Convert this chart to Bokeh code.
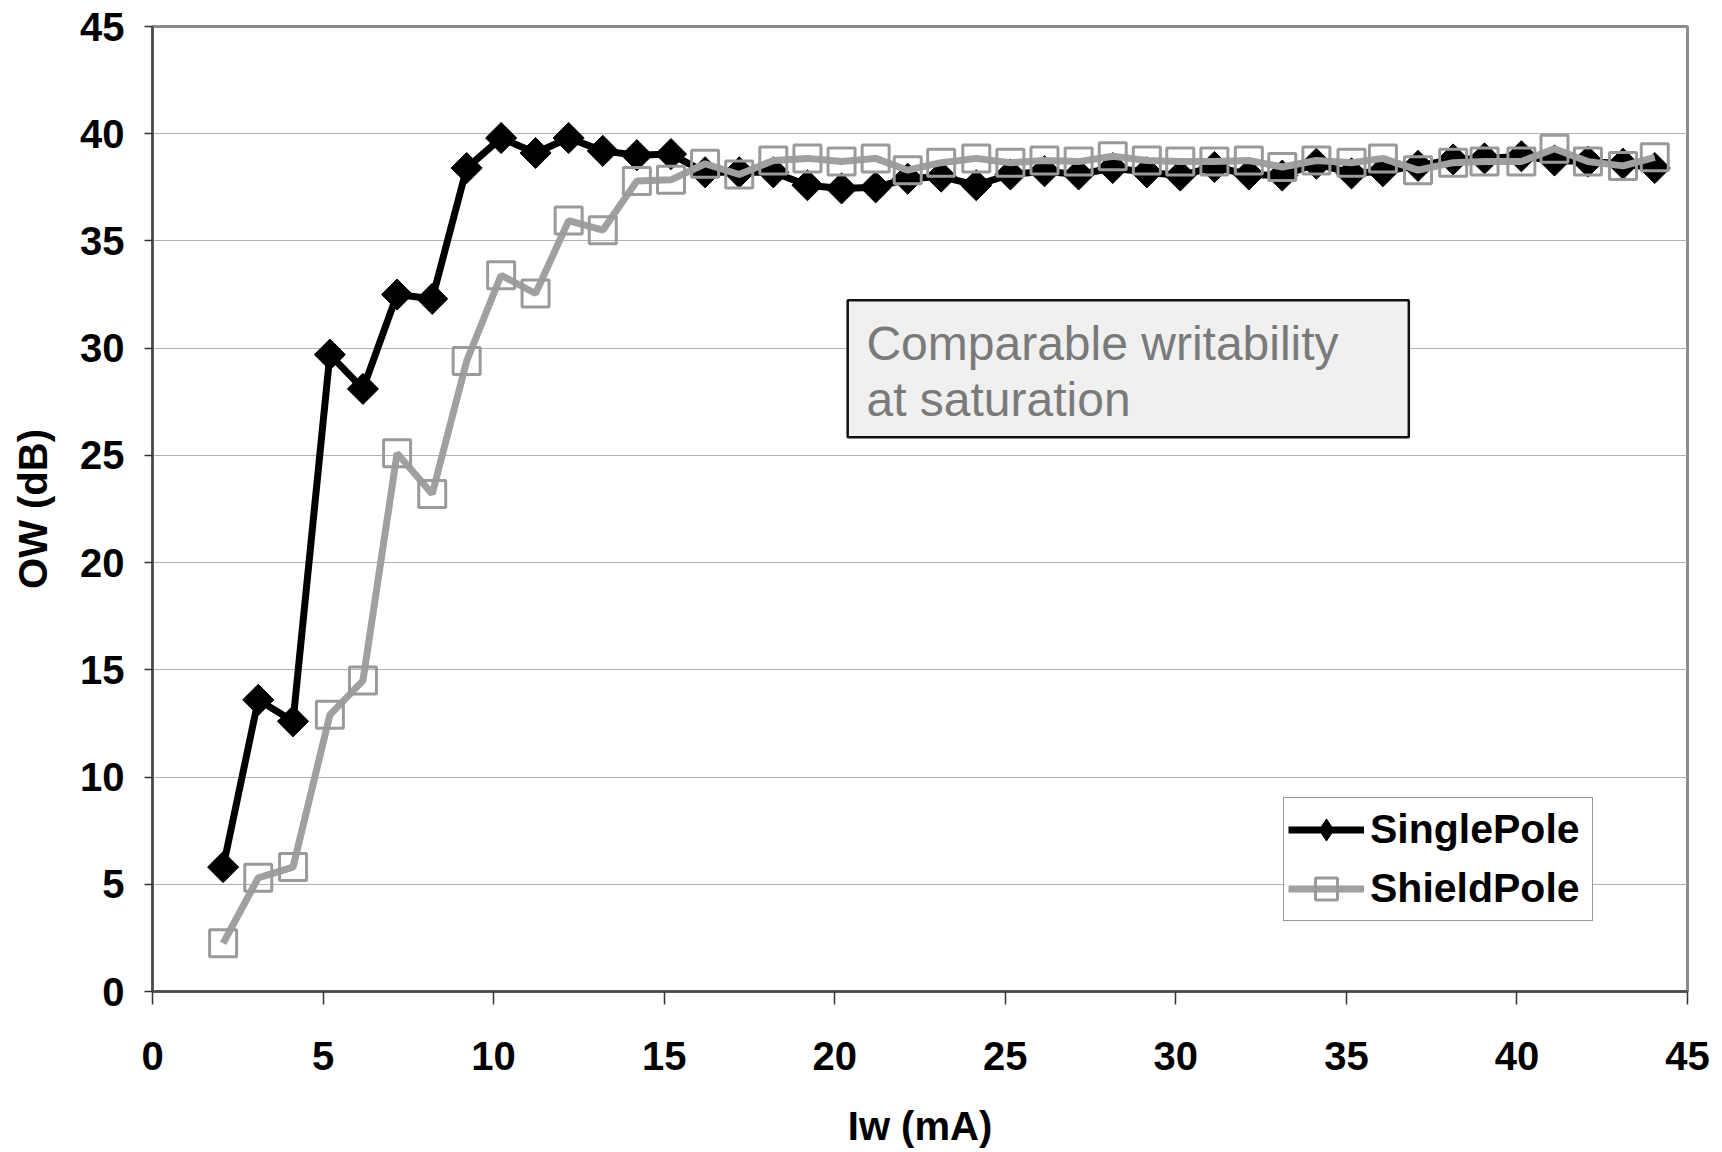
import math
from bokeh.plotting import figure
from bokeh.models import (Range1d, FixedTicker, Legend, LegendItem,
                          BoxAnnotation, Label)
from bokeh.embed import file_html
from bokeh.resources import INLINE

# ---- data ----
current_ma = [2.07, 3.1, 4.12, 5.2, 6.17, 7.17, 8.2, 9.21, 10.22, 11.23,
              12.2, 13.2, 14.2, 15.2, 16.2, 17.2, 18.2, 19.2, 20.2, 21.2,
              22.14, 23.12, 24.15, 25.15, 26.15, 27.15, 28.15, 29.15, 30.13,
              31.13, 32.14, 33.12, 34.12, 35.15, 36.07, 37.1, 38.13, 39.05,
              40.13, 41.1, 42.08, 43.11, 44.04]

single_pole_db = [5.8, 13.6, 12.6, 29.7, 28.1, 32.5, 32.3, 38.4, 39.8, 39.1,
                  39.8, 39.2, 39.0, 39.05, 38.2, 38.2, 38.2, 37.6, 37.45, 37.5,
                  37.9, 38.0, 37.6, 38.1, 38.25, 38.1, 38.4, 38.2, 38.05,
                  38.45, 38.1, 38.05, 38.6, 38.15, 38.25, 38.5, 38.8, 38.85,
                  38.95, 38.75, 38.7, 38.6, 38.4]

shield_pole_db = [2.25, 5.3, 5.8, 12.9, 14.5, 25.1, 23.2, 29.4, 33.4, 32.55,
                  35.95, 35.5, 37.8, 37.85, 38.6, 38.1, 38.75, 38.85, 38.7, 38.85,
                  38.3, 38.65, 38.85, 38.65, 38.75, 38.7, 38.95, 38.75, 38.7,
                  38.7, 38.75, 38.45, 38.75, 38.65, 38.85, 38.3, 38.65, 38.7,
                  38.7, 39.3, 38.7, 38.5, 38.9]

x_ticks = [0, 5, 10, 15, 20, 25, 30, 35, 40, 45]
y_ticks = [0, 5, 10, 15, 20, 25, 30, 35, 40, 45]

series_names = ["SinglePole", "ShieldPole"]
x_title = "Iw (mA)"
y_title = "OW (dB)"
note_lines = ["Comparable writability", "at saturation"]

FONT = "Liberation Sans"

p = figure(width=1718, height=1150, output_backend="svg", toolbar_location=None,
           x_range=Range1d(0, 45), y_range=Range1d(0, 45),
           min_border_left=152, min_border_right=31,
           min_border_top=26, min_border_bottom=158)

p.background_fill_color = "white"
p.border_fill_color = "white"
p.outline_line_color = "#8c8c8c"
p.outline_line_width = 3

# grid
p.xgrid.grid_line_color = None
p.ygrid.grid_line_color = "#b0b0b0"
p.ygrid.grid_line_width = 1
p.ygrid.ticker = FixedTicker(ticks=y_ticks)

# axes
for ax in (p.xaxis[0], p.yaxis[0]):
    ax.major_label_text_font = FONT
    ax.major_label_text_font_style = "bold"
    ax.major_label_text_font_size = "40px"
    ax.major_label_text_color = "black"
    ax.axis_label_text_font = FONT
    ax.axis_label_text_font_style = "bold"
    ax.axis_label_text_font_size = "40px"
    ax.axis_label_text_color = "black"
    ax.axis_line_color = "#4a4a4a"
    ax.axis_line_width = 2.5
    ax.major_tick_line_color = "#333333"
    ax.major_tick_line_width = 1.5
    ax.major_tick_in = 0
    ax.minor_tick_line_color = None

p.xaxis[0].ticker = FixedTicker(ticks=x_ticks)
p.yaxis[0].ticker = FixedTicker(ticks=y_ticks)
p.xaxis[0].major_tick_out = 13
p.yaxis[0].major_tick_out = 8
p.xaxis[0].major_label_standoff = 37
p.yaxis[0].major_label_standoff = 20
p.xaxis[0].axis_label = x_title
p.yaxis[0].axis_label = y_title
p.xaxis[0].axis_label_standoff = 31
p.yaxis[0].axis_label_standoff = 22

# annotation box
note_box = BoxAnnotation(left=20.38, right=36.83, bottom=25.85, top=32.23,
                         fill_color="#f0f0f0", fill_alpha=1.0,
                         line_color="#111111", line_alpha=1.0, line_width=2.5)
p.add_layout(note_box)
for txt, yy in zip(note_lines, [30.21, 27.6]):
    p.add_layout(Label(x=20.93, y=yy, text=txt, text_font=FONT,
                       text_font_size="48px", text_color="#7a7a7a",
                       text_baseline="alphabetic", text_align="left"))

# series
l1 = p.line(current_ma, single_pole_db, line_color="black", line_width=7)
s1 = p.scatter(current_ma, single_pole_db, marker="square", size=22,
               angle=math.pi / 4, fill_color="black", line_color="black",
               line_width=1)
# legend-only swatch (size 0 on the plot; legend sizes its own marker)
s1_key = p.scatter(current_ma, single_pole_db, marker="diamond", size=0,
                   fill_color="black", line_color="black", line_width=1)
l2 = p.line(current_ma, shield_pole_db, line_color="#a0a0a0", line_width=7)
s2 = p.scatter(current_ma, shield_pole_db, marker="square", size=27,
               fill_color=None, line_color="#9a9a9a", line_width=3)

legend = Legend(items=[LegendItem(label=series_names[0], renderers=[l1, s1_key]),
                       LegendItem(label=series_names[1], renderers=[l2, s2])],
                location=(1131, 70))
legend.label_text_font = FONT
legend.label_text_font_style = "bold"
legend.label_text_font_size = "41px"
legend.label_text_color = "black"
legend.glyph_width = 76
legend.glyph_height = 55
legend.label_standoff = 6
legend.label_width = 218
legend.padding = 4
legend.spacing = 4
legend.margin = 0
legend.border_line_color = "#333333"
legend.border_line_width = 1.5
legend.background_fill_color = "white"
legend.background_fill_alpha = 1.0
p.add_layout(legend, "center")

open("out.html", "w").write(file_html(p, INLINE))
